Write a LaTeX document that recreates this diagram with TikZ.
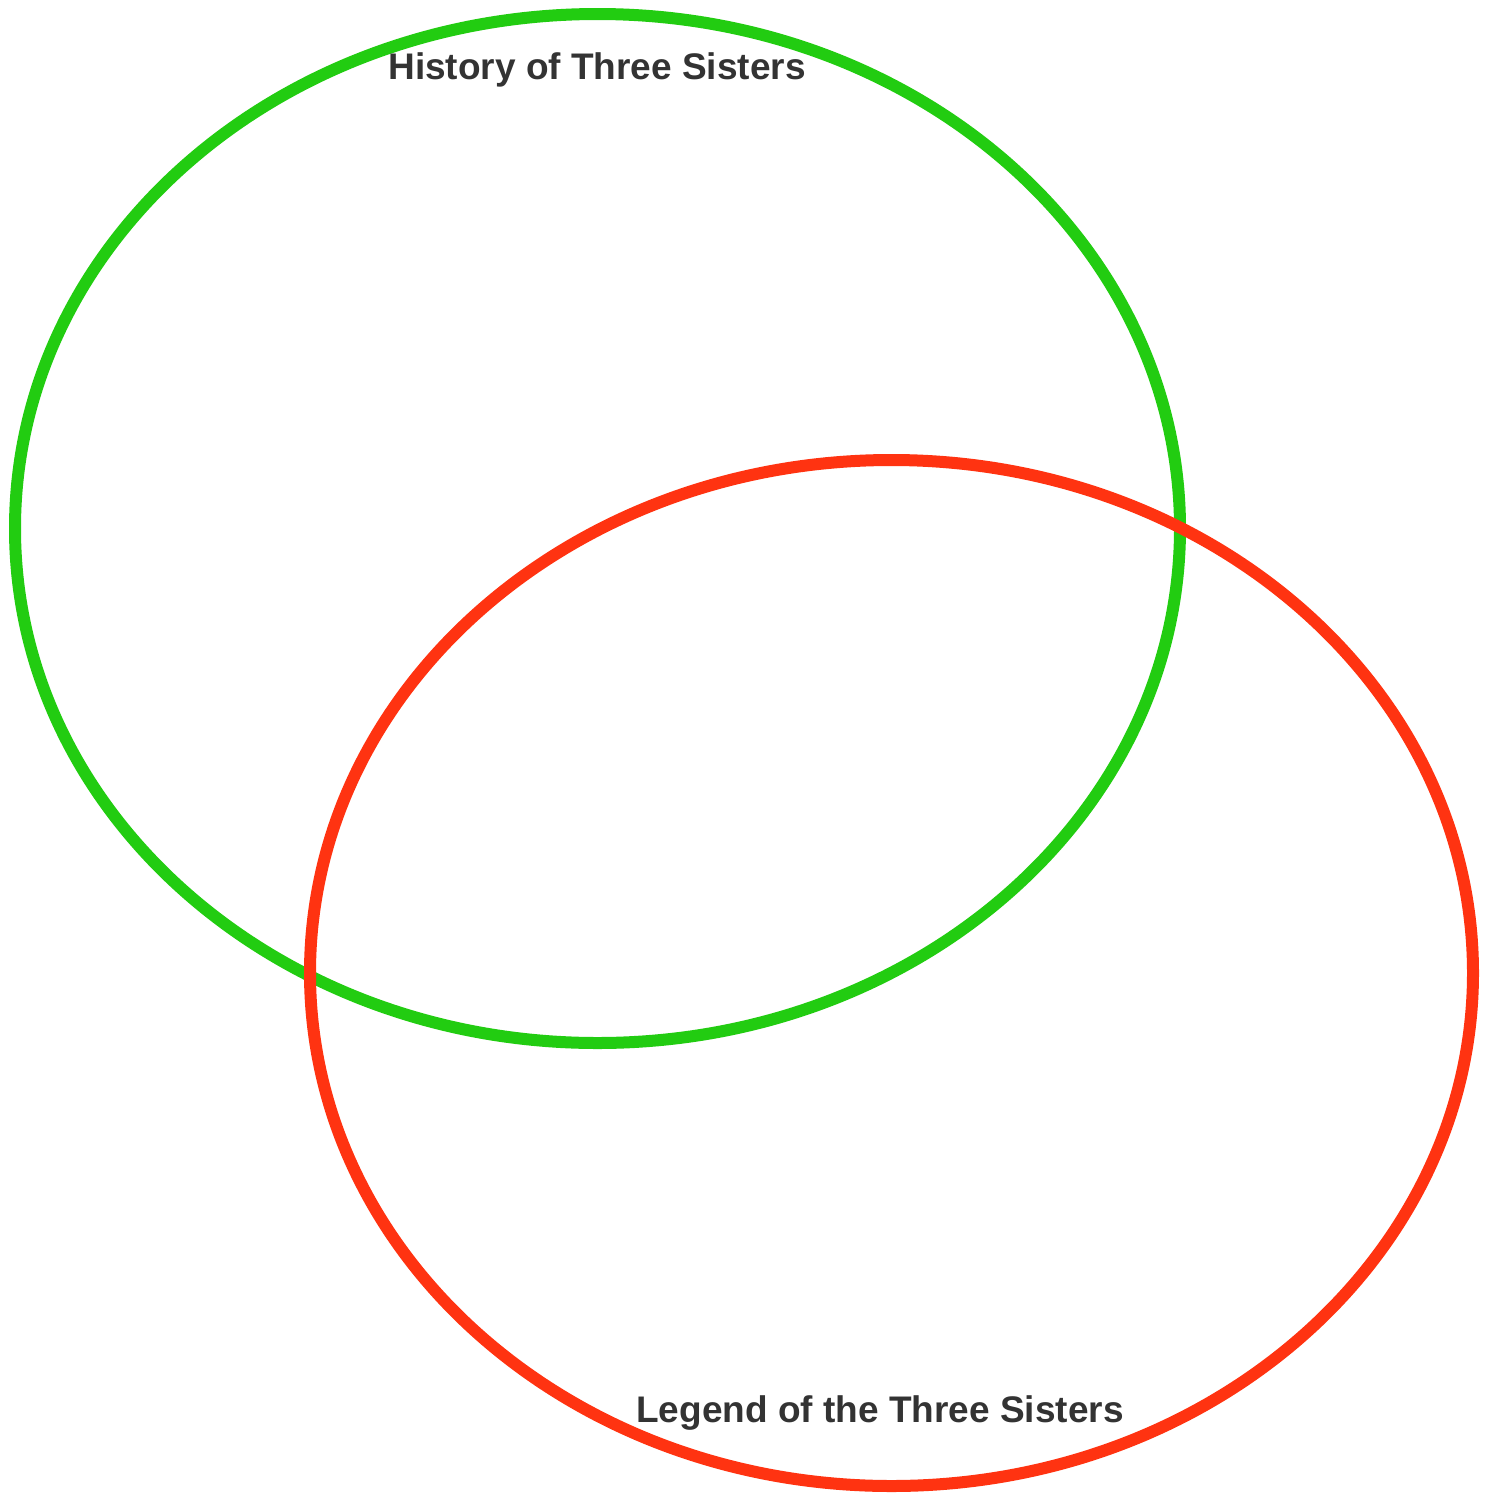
\documentclass[tikz,border=0pt]{standalone}
\usepackage{fontspec}
\setmainfont{Liberation Sans}
\begin{document}
\begin{tikzpicture}[x=1pt,y=-1pt,
  ring/.style={line width=12pt},
  lbl/.style={font=\fontsize{37}{41}\selectfont\bfseries, text=labelgray, inner sep=0pt}]
\definecolor{ringgreen}{HTML}{22CC11}
\definecolor{ringred}{HTML}{FF3311}
\definecolor{labelgray}{HTML}{333333}
\useasboundingbox (0,0) rectangle (1496,1497);
\fill[white] (0,0) rectangle (1496,1497);
\draw[ring, ringgreen] (597.5,528.5) ellipse [x radius=582.5, y radius=514.5];
\draw[ring, ringred] (891.5,973) ellipse [x radius=581.5, y radius=513];
\node[lbl] (history) at (597,70) {History of Three Sisters};
\node[lbl] (legend) at (880,1413) {Legend of the Three Sisters};
\end{tikzpicture}
\end{document}
